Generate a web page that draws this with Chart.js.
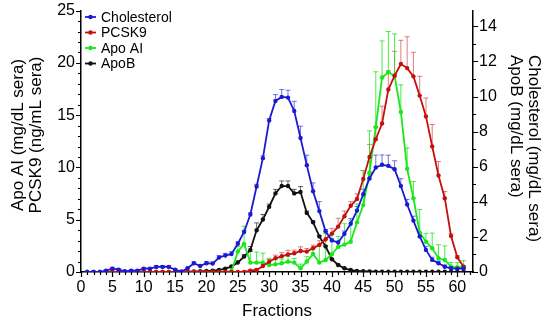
<!DOCTYPE html>
<html>
<head>
<meta charset="utf-8">
<script src="https://cdn.jsdelivr.net/npm/chart.js@4.4.0/dist/chart.umd.min.js"></script>
<style>
html, body { margin: 0; padding: 0; background: #fff; }
canvas { display: block; }
</style>
</head>
<body>
<canvas id="lipoChart" width="550" height="325"></canvas>
<script>
// fractions 1..61
const fractions = [1,2,3,4,5,6,7,8,9,10,11,12,13,14,15,16,17,18,19,20,
  21,22,23,24,25,26,27,28,29,30,31,32,33,34,35,36,37,38,39,40,
  41,42,43,44,45,46,47,48,49,50,51,52,53,54,55,56,57,58,59,60,61];

// right axis, mg/dL sera
const cholesterol = [0,0,0,0.08,0.19,0.13,0.04,0.08,0.08,0.19,
  0.19,0.29,0.29,0.29,0.13,0.02,0.21,0.5,0.34,0.5,
  0.48,0.82,0.94,1.03,1.61,2.28,3.28,4.87,6.49,8.64,
  9.75,9.98,9.94,9.18,7.64,6.09,4.6,3.47,2.32,1.8,
  1.68,2.18,2.75,3.5,4.43,5.33,5.96,6.11,6.05,5.86,
  4.9,3.85,2.93,2.03,1.26,0.69,0.5,0.3,0.21,0.19,0.2];
const cholesterolErr = [0,0,0,0.06,0.08,0.06,0.05,0.05,0.05,0.06,
  0.06,0.08,0.08,0.08,0.06,0.05,0.06,0.08,0.08,0.1,
  0.1,0.12,0.12,0.13,0.12,0.1,0.1,0.13,0.13,0.1,
  0.36,0.42,0.42,0.55,0.67,0.57,0.48,0.54,0.1,0.08,
  0.08,0.15,0.29,0.23,0.29,0.3,0.7,0.56,0.61,0.48,
  0.42,0.29,0.25,0.2,0.2,0.15,0.12,0.1,0.08,0.06,0.05];

const apoB = [0,0,0,0,0,0,0,0,0,0,
  0,0,0,0,0.01,0.02,0.02,0.03,0.04,0.06,
  0.08,0.11,0.19,0.31,0.54,0.88,1.26,2.38,2.99,3.72,
  4.48,4.9,4.9,4.48,4.56,3.37,2.84,2.03,1.46,0.73,
  0.4,0.21,0.11,0.06,0.04,0.03,0.02,0.01,0.01,0.01,
  0.01,0.01,0.01,0.01,0.01,0.01,0.01,0.01,0.01,0.01,0.01];
const apoBErr = [0,0,0,0,0,0,0,0,0,0,
  0,0,0,0,0,0,0,0,0,0,
  0.02,0.03,0.04,0.05,0.08,0.1,0.19,0.42,0.29,0.15,
  0.23,0.29,0.29,0.23,0.31,0.1,0.08,0.05,0.04,0.03,
  0.02,0.01,0.01,0.01,0.01,0.01,0.01,0.01,0.01,0.01,
  0.01,0.01,0.01,0.01,0.01,0.01,0.01,0.01,0.01,0.01,0.01];

// left axis
const pcsk9 = [0,0,0,0,0,0,0,0,0,0,
  0,0,0,0,0,0,0,0,0,0,
  0,0,0,0,0,0,0.13,0.19,0.57,0.99,
  1.31,1.5,1.68,1.79,2.01,1.95,2.27,2.59,3.13,3.67,
  4.34,5.33,6.33,6.98,8.9,11.0,12.7,14.2,17.45,18.77,
  19.89,19.5,18.71,16.87,14.88,12.0,9.23,7.06,3.45,1.41,0.51];
const pcsk9Err = [0,0,0,0,0,0,0,0,0,0,
  0,0,0,0,0,0,0,0,0,0,
  0,0,0,0,0,0,0.1,0.15,0.2,0.2,
  0.3,0.35,0.4,0.3,0.4,0.3,0.3,0.4,0.73,0.5,
  0.8,0.5,0.4,0.5,0.8,1.2,1.2,1.66,1.8,2.33,
  2.27,3.0,2.3,1.85,1.76,2.1,1.34,0.64,0.2,0.15,0.1];

const apoAI = [0,0,0,0,0,0,0,0,0,0,
  0,0,0,0,0,0,0,0,0,0,
  0,0,0,0.1,1.95,2.68,0.9,0.9,0.9,0.67,
  0.73,0.83,0.99,0.9,0.35,0.99,1.72,0.9,1.15,1.7,
  2.4,2.62,2.9,4.75,6.4,9.5,13.85,18.6,19.1,18.77,
  15.3,9.87,7.06,3.77,2.9,2.27,1.31,1.15,0.51,0.45,0.51];
const apoAIErr = [0,0,0,0,0,0,0,0,0,0,
  0,0,0,0,0,0,0,0,0,0,
  0,0,0,0,0.5,1.7,1.05,1.0,0.9,0.64,
  0.5,0.4,0.5,0.4,0.4,0.5,0.6,1.7,2.5,1.9,
  1.0,2.0,2.0,1.75,3.3,4.0,5.3,3.5,3.9,4.0,
  2.6,2.0,1.6,2.2,0.8,1.45,1.3,1.35,0.4,0.45,0.57];

const leftTicks = [0, 5, 10, 15, 20, 25];
const rightTicks = [0, 2, 4, 6, 8, 10, 12, 14];
const xTicks = [0, 5, 10, 15, 20, 25, 30, 35, 40, 45, 50, 55, 60];
const leftTitle = ['Apo AI (mg/dL sera)', 'PCSK9 (ng/mL sera)'];
const rightTitle = ['Cholesterol (mg/dL sera)', 'ApoB (mg/dL sera)'];

const FONT = 'Arial, "Liberation Sans", sans-serif';

function series(label, values, errs, color, errColor, axis) {
  return {
    label: label,
    data: fractions.map((f, i) => ({ x: f, y: values[i] })),
    errors: errs,
    errColor: errColor,
    yAxisID: axis,
    borderColor: color,
    backgroundColor: color,
    borderWidth: 1.8,
    pointRadius: 2.2,
    pointBorderWidth: 0,
    pointHoverRadius: 2.2,
    tension: 0
  };
}

// upper error bars, drawn through the scales
const errorBars = {
  id: 'errorBars',
  beforeDatasetsDraw(chart) {
    const ctx = chart.ctx;
    const xs = chart.scales.x;
    ctx.save();
    ctx.lineWidth = 1;
    chart.data.datasets.forEach(ds => {
      const ys = chart.scales[ds.yAxisID];
      ctx.strokeStyle = ds.errColor;
      ds.data.forEach((p, i) => {
        const e = ds.errors[i];
        if (!e) return;
        const px = xs.getPixelForValue(p.x);
        const y0 = ys.getPixelForValue(p.y);
        const y1 = ys.getPixelForValue(p.y + e);
        ctx.beginPath();
        ctx.moveTo(px, y0);
        ctx.lineTo(px, y1);
        ctx.moveTo(px - 2.5, y1);
        ctx.lineTo(px + 2.5, y1);
        ctx.stroke();
      });
    });
    ctx.restore();
  }
};

// major and minor tick marks
const tickMarks = {
  id: 'tickMarks',
  afterDraw(chart) {
    const ctx = chart.ctx;
    const { left, right, bottom } = chart.chartArea;
    const yl = chart.scales.yLeft, yr = chart.scales.yRight, xs = chart.scales.x;
    ctx.save();
    ctx.strokeStyle = '#000';
    ctx.lineWidth = 1.2;
    ctx.beginPath();
    for (let v = 0; v <= 25; v++) {
      const y = Math.round(yl.getPixelForValue(v)) + 0.5;
      ctx.moveTo(left, y);
      ctx.lineTo(left - (v % 5 === 0 ? 5 : 3), y);
    }
    for (let v = 0; v <= 14; v++) {
      const y = Math.round(yr.getPixelForValue(v)) + 0.5;
      ctx.moveTo(right, y);
      ctx.lineTo(right + (v % 2 === 0 ? 5 : 3), y);
    }
    for (let v = 0; v <= 62; v++) {
      const x = Math.round(xs.getPixelForValue(v)) + 0.5;
      ctx.moveTo(x, bottom);
      ctx.lineTo(x, bottom + (v % 5 === 0 ? 5 : 3));
    }
    ctx.stroke();
    ctx.restore();
  }
};

// the two y titles: left one centred, right one top-aligned
const axisTitles = {
  id: 'axisTitles',
  afterDraw(chart) {
    const ctx = chart.ctx;
    ctx.save();
    ctx.font = '17px ' + FONT;
    ctx.fillStyle = '#000';
    ctx.textBaseline = 'middle';
    ctx.textAlign = 'center';
    [18, 36.5].forEach((x, i) => {
      ctx.save();
      ctx.translate(x, 135);
      ctx.rotate(-Math.PI / 2);
      ctx.fillText(leftTitle[i], 0, 0);
      ctx.restore();
    });
    ctx.textAlign = 'left';
    [534, 516].forEach((x, i) => {
      ctx.save();
      ctx.translate(x, 55);
      ctx.rotate(Math.PI / 2);
      ctx.fillText(rightTitle[i], 0, 0);
      ctx.restore();
    });
    ctx.restore();
  }
};

// legend in the top-left corner of the plot
const cornerLegend = {
  id: 'cornerLegend',
  afterDraw(chart) {
    const ctx = chart.ctx;
    const x0 = chart.chartArea.left + 4;
    ctx.save();
    ctx.font = '14px ' + FONT;
    ctx.textBaseline = 'middle';
    chart.data.datasets.forEach((ds, i) => {
      const y = 17 + i * 15.5;
      ctx.strokeStyle = ds.borderColor;
      ctx.fillStyle = ds.borderColor;
      ctx.lineWidth = 1.8;
      ctx.beginPath();
      ctx.moveTo(x0, y);
      ctx.lineTo(x0 + 11, y);
      ctx.stroke();
      ctx.beginPath();
      ctx.arc(x0 + 5.5, y, 2.2, 0, Math.PI * 2);
      ctx.fill();
      ctx.fillStyle = '#000';
      ctx.fillText(ds.label, x0 + 16, y + 1);
    });
    ctx.restore();
  }
};

new Chart(document.getElementById('lipoChart'), {
  type: 'line',
  data: {
    datasets: [
      series('Cholesterol', cholesterol, cholesterolErr, '#1a1ad2', 'rgba(40,40,215,0.65)', 'yRight'),
      series('PCSK9', pcsk9, pcsk9Err, '#c41010', 'rgba(205,40,40,0.6)', 'yLeft'),
      series('Apo AI', apoAI, apoAIErr, '#18e818', 'rgba(30,230,30,0.8)', 'yLeft'),
      series('ApoB', apoB, apoBErr, '#111111', 'rgba(20,20,20,0.65)', 'yRight')
    ]
  },
  options: {
    responsive: false,
    devicePixelRatio: 1,
    animation: false,
    layout: { padding: { top: 10, right: 0, left: 0, bottom: 0 } },
    plugins: { legend: { display: false }, tooltip: { enabled: false } },
    scales: {
      x: {
        type: 'linear',
        min: 0,
        max: 62.5,
        afterBuildTicks: s => { s.ticks = xTicks.map(v => ({ value: v })); },
        afterFit: s => { s.height = 53; },
        grid: { drawOnChartArea: false, color: 'transparent', tickLength: 5 },
        border: { color: '#000', width: 1.5 },
        ticks: { color: '#000', font: { size: 16, family: FONT }, padding: 1, maxRotation: 0, autoSkip: false },
        title: { display: true, text: 'Fractions', color: '#000', font: { size: 17, family: FONT }, padding: { top: 0, bottom: 3 } }
      },
      yLeft: {
        type: 'linear',
        position: 'left',
        min: 0,
        max: 25,
        afterBuildTicks: s => { s.ticks = leftTicks.map(v => ({ value: v })); },
        afterFit: s => { s.width = 81; },
        grid: { drawOnChartArea: false, color: 'transparent', tickLength: 5 },
        border: { color: '#000', width: 1.5 },
        ticks: { color: '#000', font: { size: 16, family: FONT }, padding: 1 }
      },
      yRight: {
        type: 'linear',
        position: 'right',
        min: 0,
        max: 14.9,
        afterBuildTicks: s => { s.ticks = rightTicks.map(v => ({ value: v })); },
        afterFit: s => { s.width = 77; },
        grid: { drawOnChartArea: false, color: 'transparent', tickLength: 5 },
        border: { color: '#000', width: 1.5 },
        ticks: { color: '#000', font: { size: 16, family: FONT }, padding: 1 }
      }
    }
  },
  plugins: [errorBars, tickMarks, axisTitles, cornerLegend]
});
</script>
</body>
</html>
